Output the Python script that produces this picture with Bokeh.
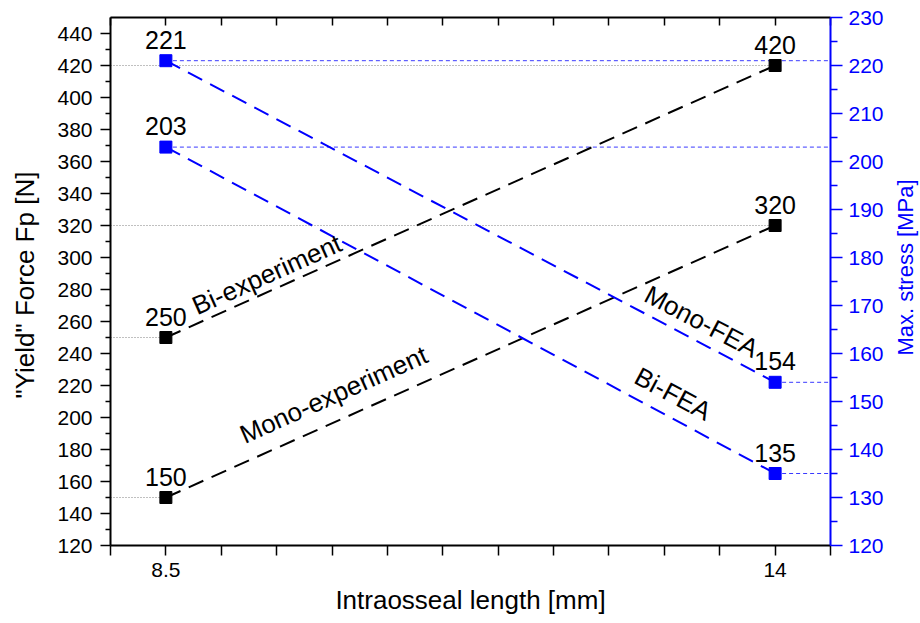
import math
import numpy as np
from bokeh.plotting import figure
from bokeh.layouts import row
from bokeh.models import Range1d, LinearAxis, FixedTicker
from bokeh.core.properties import value
from bokeh.embed import file_html
from bokeh.resources import INLINE

# ---- data ----
length_mm = [8.5, 14]
bi_experiment = [250, 420]
mono_experiment = [150, 320]
mono_fea = [221, 154]
bi_fea = [203, 135]
x_tick_labels = ["8.5", "14"]
left_ticks = list(range(120, 441, 20))
right_ticks = list(range(120, 231, 10))

FONT = "Liberation Sans"
BLUE = "#0000ff"

W, H = 920, 623
TW = 27                     # width of the strip holding the right-hand title
BL, BR, BT, BB = 110, 63, 17, 78
X0, X1 = 8, 14.5
Y0, Y1 = 120, 450
R0, R1 = 120, 230

p = figure(width=W - TW, height=H, output_backend="svg", toolbar_location=None,
           x_range=Range1d(X0, X1), y_range=Range1d(Y0, Y1),
           min_border_left=BL, min_border_right=BR, min_border_top=BT,
           min_border_bottom=BB, background_fill_color="white",
           border_fill_color="white")
p.extra_y_ranges = {"stress": Range1d(R0, R1)}
p.grid.visible = False
p.outline_line_color = None

half_steps = list(np.arange(X0, X1 + 0.01, 0.5))

# bottom axis
xa = p.xaxis[0]
xa.ticker = FixedTicker(ticks=length_mm,
                        minor_ticks=[t for t in half_steps if t not in length_mm])
xa.major_label_overrides = {length_mm[i]: x_tick_labels[i] for i in range(2)}
xa.axis_label = "Intraosseal length [mm]"

# left axis
ya = p.yaxis[0]
ya.ticker = FixedTicker(ticks=left_ticks, minor_ticks=[t + 10 for t in left_ticks[:-1]])
ya.axis_label = '"Yield" Force  Fp [N]'

for ax in (xa, ya):
    ax.axis_line_width = 2
    ax.axis_line_color = "black"
    ax.major_tick_line_width = 1.5
    ax.minor_tick_line_width = 1.5
    ax.major_tick_in = 0
    ax.minor_tick_in = 0
    ax.major_tick_out = 10
    ax.major_label_text_font = FONT
    ax.major_label_text_font_size = "21px"
    ax.major_label_text_color = "black"
    ax.axis_label_text_font = FONT
    ax.axis_label_text_font_style = "normal"
    ax.axis_label_text_color = "black"
xa.axis_label_text_font_size = "26px"
ya.axis_label_text_font_size = "26px"
xa.minor_tick_out = 10
ya.minor_tick_out = 5
xa.major_label_standoff = 7
ya.major_label_standoff = 8
xa.axis_label_standoff = 5
ya.axis_label_standoff = 14

# right axis
ra = LinearAxis(y_range_name="stress")
ra.ticker = FixedTicker(ticks=right_ticks, minor_ticks=[t + 5 for t in right_ticks[:-1]])
ra.axis_line_width = 2
ra.axis_line_color = BLUE
ra.major_tick_line_color = BLUE
ra.minor_tick_line_color = BLUE
ra.major_tick_line_width = 1.5
ra.minor_tick_line_width = 1.5
ra.major_tick_in = 0
ra.minor_tick_in = 0
ra.major_tick_out = 12
ra.minor_tick_out = 7
ra.major_label_standoff = 6
ra.major_label_text_font = FONT
ra.major_label_text_font_size = "21px"
ra.major_label_text_color = BLUE
p.add_layout(ra, "right")

# top axis (inward ticks only)
ta = LinearAxis(ticker=FixedTicker(ticks=[], minor_ticks=half_steps))
ta.axis_line_width = 2
ta.axis_line_color = "black"
ta.minor_tick_in = 8
ta.minor_tick_out = 0
ta.major_tick_in = 0
ta.major_tick_out = 0
ta.minor_tick_line_width = 1.5
ta.major_label_text_font_size = "1px"
p.add_layout(ta, "above")

# ---- drop lines ----
for ys in (bi_experiment, mono_experiment):
    p.segment(x0=[X0] * 2, y0=ys, x1=length_mm, y1=ys,
              line_color="#808080", line_width=1, line_dash="1 2")
for ys in (mono_fea, bi_fea):
    p.segment(x0=length_mm, y0=ys, x1=[X1] * 2, y1=ys, y_range_name="stress",
              line_color="#3a3aff", line_width=1, line_dash="4 3")

# ---- series ----
for ys in (bi_experiment, mono_experiment):
    p.line(length_mm, ys, line_color="black", line_width=2, line_dash="16 9")
    p.scatter(length_mm, ys, marker="square", size=12, color="black")
for ys in (mono_fea, bi_fea):
    p.line(length_mm, ys, line_color=BLUE, line_width=2, line_dash="16 9",
           y_range_name="stress")
    p.scatter(length_mm, ys, marker="square", size=12, color=BLUE,
              y_range_name="stress")

# value labels
for ys, rng in ((bi_experiment, "default"), (mono_experiment, "default"),
                (mono_fea, "stress"), (bi_fea, "stress")):
    p.text(length_mm, ys, text=[str(v) for v in ys], y_range_name=rng,
           text_align="center", text_baseline="alphabetic", y_offset=-21,
           text_font=value(FONT), text_font_size="25px", text_color="black")

# rotated series names
fw = W - TW - BL - BR
fh = H - BT - BB
def angle_of(ys, lo, hi):
    dx = (length_mm[1] - length_mm[0]) / (X1 - X0) * fw
    dy = (ys[1] - ys[0]) / (hi - lo) * fh
    return math.atan2(dy, dx)

def on_line(ys, x):
    t = (x - length_mm[0]) / (length_mm[1] - length_mm[0])
    return ys[0] + t * (ys[1] - ys[0])

names = [("Bi-experiment", bi_experiment, "default", Y0, Y1, 8.75, -18),
         ("Mono-experiment", mono_experiment, "default", Y0, Y1, 9.18, -28),
         ("Mono-FEA", mono_fea, "stress", R0, R1, 12.84, -22),
         ("Bi-FEA", bi_fea, "stress", R0, R1, 12.75, -25)]
for name, ys, rng, lo, hi, xs, off in names:
    p.text([xs], [on_line(ys, xs)], text=[name], y_range_name=rng,
           angle=angle_of(ys, lo, hi), text_align="left",
           text_baseline="alphabetic", y_offset=off,
           text_font=value(FONT), text_font_size="26px", text_color="black")

# ---- right-hand title strip (reads bottom-to-top, like the reference) ----
t = figure(width=TW, height=H, output_backend="svg", toolbar_location=None,
           x_range=Range1d(0, 1), y_range=Range1d(0, H),
           x_axis_location=None, y_axis_location=None,
           min_border=0, background_fill_color="white", border_fill_color="white")
t.grid.visible = False
t.outline_line_color = None
t.text([0.45], [H - 295], text=["Max. stress [MPa]"], angle=math.pi / 2,
       text_align="center", text_baseline="middle",
       text_font=value(FONT), text_font_size="22px", text_color=BLUE)

layout = row(p, t, spacing=0)
open("out.html", "w").write(file_html(layout, INLINE))
